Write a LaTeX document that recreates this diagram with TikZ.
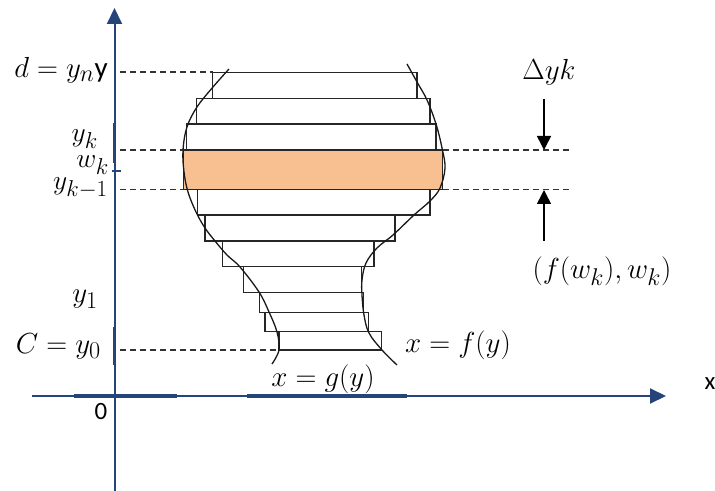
\documentclass[tikz,border=0pt]{standalone}
\usepackage{fontspec}
\newfontfamily\carlito{Carlito}
\usetikzlibrary{arrows.meta}
\definecolor{axisblue}{RGB}{36,68,122}
\definecolor{stripfill}{RGB}{248,192,145}
\tikzset{
  lbl/.style={font=\fontsize{24.88}{30}\selectfont, inner sep=0pt, scale=1.17},
  slbl/.style={font=\carlito\fontsize{25}{29}\selectfont, inner sep=0pt},
  axis/.style={axisblue, line width=2bp},
  axisthick/.style={axisblue, line width=3.4bp},
  guide/.style={black!80, line width=1.2bp, dash pattern=on 6bp off 4bp},
  slab/.style={draw=black!85, line width=1.5bp},
  curve/.style={black!90, line width=1.3bp},
  pointer/.style={black, line width=1.6bp, -{Triangle[length=14bp,width=14bp]}}
}
\begin{document}
\begin{tikzpicture}[x=1bp,y=-1bp]
\useasboundingbox (0,0) rectangle (715,491);
% axes
\coordinate (yb) at (114.5,491);
\coordinate (yt) at (114.5,8);
\coordinate (xl) at (32,396);
\coordinate (xr) at (666,396);
\draw[axis,-{Triangle[length=16bp,width=15bp]}] (yb) -- (yt);
\draw[axis,-{Triangle[length=16bp,width=15bp]}] (xl) -- (xr);
\draw[axisthick] (114.5,123) -- (114.5,163);
\draw[axisthick] (114.5,327) -- (114.5,365);
\draw[axisthick] (74,396) -- (177,396);
\draw[axisthick] (247,396) -- (407,396);
\draw[axis] (112,170.7) -- (121,170.7);
% slabs
\draw[slab] (212.7,72.7) rectangle (417,98.3);
\draw[slab] (196.7,98.3) rectangle (430,124);
\draw[slab] (186.7,124) rectangle (436,150);
\draw[slab] (197.7,189.3) rectangle (430,215);
\draw[slab] (205,215) rectangle (395,241);
\draw[slab] (222.3,241) rectangle (374,266.7);
\draw[slab] (243.3,266.7) rectangle (361.7,292.3);
\draw[slab] (259.3,292.3) rectangle (363.3,312.3);
\draw[slab] (265,312.3) rectangle (368.3,331.7);
\draw[slab] (279,331.7) rectangle (381.7,350);
\draw[slab, fill=stripfill] (183.3,150) rectangle (442.7,189.3);
% curves
\draw[curve] plot[smooth, tension=0.6] coordinates {(229,69) (213,87) (197,107) (187,127) (183,150) (184,172) (188,192) (196,212) (205,228) (215,241) (227,255) (240,267) (259,292) (269,312) (277,332) (279,350) (272,364)};
\draw[curve] plot[smooth, tension=0.6] coordinates {(407,64) (417,82) (427,100) (436,124) (442,148) (445,168) (440,188) (430,201) (414,215) (393,235) (377,248) (366,263) (362,280) (362,295) (364,315) (369,333) (382,350) (397,365)};
% guides
\draw[guide] (120,72) -- (212.7,72);
\draw[guide] (120,150) -- (183.3,150);
\draw[guide] (120,189.3) -- (183.3,189.3);
\draw[guide] (442.7,150) -- (570,150);
\draw[guide] (442.7,189.3) -- (570,189.3);
\draw[guide] (120,350) -- (279,350);
% pointers
\coordinate (dtop) at (544,99);
\coordinate (dtip) at (544,150);
\coordinate (utop) at (544,241);
\coordinate (utip) at (544,190);
\draw[pointer] (dtop) -- (dtip);
\draw[pointer] (utop) -- (utip);
% labels
\node[lbl, anchor=east] (dlab) at (108,70) {$d = y_n${\carlito y}};
\node[lbl, anchor=east, scale=0.95] (yklab) at (98,139) {$y_k$};
\node[lbl, anchor=east, scale=0.95] (wklab) at (109,165) {$w_k$};
\node[lbl, anchor=east, scale=0.95] (ykmlab) at (108,188) {$y_{k-1}$};
\node[lbl, anchor=east] (y1lab) at (98,299) {$y_1$};
\node[lbl, anchor=east] (clab) at (101,346) {$C = y_0$};
\node[slbl] (zlab) at (101,412) {0};
\node[slbl] (xlab) at (710,384) {x};
\node[lbl] (glab) at (323,379) {$x = g(y)$};
\node[lbl, anchor=west] (flab) at (405,345) {$x = f(y)$};
\node[lbl] (dylab) at (549,72) {$\Delta yk$};
\node[lbl] (plab) at (602,271) {$(f(w_k),w_k)$};
\end{tikzpicture}
\end{document}
